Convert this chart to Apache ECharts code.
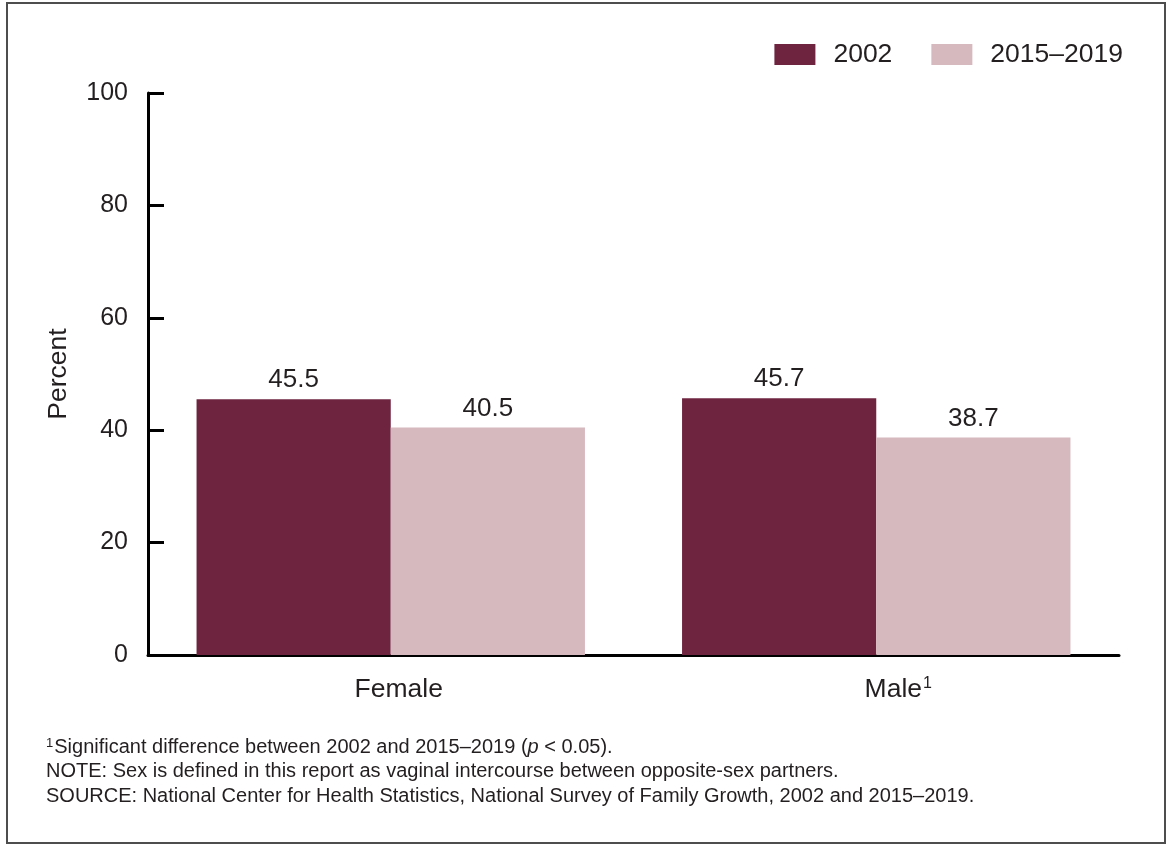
<!DOCTYPE html>
<html>
<head>
<meta charset="utf-8">
<script src="https://cdn.jsdelivr.net/npm/echarts@6/dist/echarts.min.js"></script>
<style>
html,body{margin:0;padding:0;background:#fff;}
#chart{width:1174px;height:850px;}
</style>
</head>
<body>
<div id="chart"></div>
<script>
const categories = ['Female', 'Male'];
const seriesNames = ['2002', '2015–2019'];
const values2002 = [45.5, 45.7];
const values2015 = [40.5, 38.7];
const yTicks = [0, 20, 40, 60, 80, 100];
const footnotes = [
  '{sup|1}Significant difference between 2002 and 2015–2019 ({it|p} < 0.05).',
  'NOTE: Sex is defined in this report as vaginal intercourse between opposite-sex partners.',
  'SOURCE: National Center for Health Statistics, National Survey of Family Growth, 2002 and 2015–2019.'
];

const FONT = '"Liberation Sans", Arial, Helvetica, sans-serif';
const chart = echarts.init(document.getElementById('chart'));

const option = {
  backgroundColor: '#fff',
  animation: false,
  textStyle: { fontFamily: FONT, color: '#231f20' },
  legend: {
    right: 46,
    top: 36,
    itemWidth: 41,
    itemHeight: 21,
    itemGap: 39,
    icon: 'rect',
    textStyle: { fontSize: 26.5, fontFamily: FONT, color: '#231f20', padding: [0, 0, 0, 13] },
    data: seriesNames
  },
  grid: { left: 148, right: 55, top: 93, bottom: 195, containLabel: false },
  xAxis: {
    type: 'category',
    data: categories,
    axisLine: { lineStyle: { color: '#000', width: 3 } },
    axisTick: { show: false },
    axisLabel: {
      fontSize: 26.5, color: '#231f20', margin: 21, fontFamily: FONT,
      formatter: function (v) { return v === 'Male' ? '{m|Male}{sup|1}' : '{f|' + v + '}'; },
      rich: {
        f: { fontSize: 26.5, fontFamily: FONT, color: '#231f20', padding: [0, 0, 0, 16] },
        m: { fontSize: 26.5, fontFamily: FONT, color: '#231f20', padding: [0, 0, 0, 44] },
        sup: { fontSize: 16, verticalAlign: 'top', padding: [0, 0, 12, 1], fontFamily: FONT, color: '#231f20' }
      }
    }
  },
  yAxis: {
    type: 'value',
    min: yTicks[0],
    max: yTicks[yTicks.length - 1],
    interval: yTicks[1] - yTicks[0],
    name: 'Percent',
    nameLocation: 'middle',
    nameRotate: 90,
    nameGap: 76,
    nameTextStyle: { fontSize: 26.5, color: '#231f20', fontFamily: FONT },
    axisLine: { show: true, lineStyle: { color: '#000', width: 3 } },
    axisTick: { show: true, inside: true, length: 16, lineStyle: { color: '#000', width: 3 } },
    splitLine: { show: false },
    axisLabel: { fontSize: 25, color: '#231f20', margin: 20, fontFamily: FONT }
  },
  series: [
    {
      name: seriesNames[0], type: 'bar', data: values2002,
      barGap: '0%', barCategoryGap: '20%',
      itemStyle: { color: '#6e243f' },
      label: { show: true, position: 'top', distance: 6, fontSize: 26, color: '#231f20', fontFamily: FONT, formatter: p => p.value.toFixed(1) }
    },
    {
      name: seriesNames[1], type: 'bar', data: values2015,
      barGap: '0%', barCategoryGap: '20%',
      itemStyle: { color: '#d6b9be' },
      label: { show: true, position: 'top', distance: 6, fontSize: 26, color: '#231f20', fontFamily: FONT, formatter: p => p.value.toFixed(1) }
    }
  ],
  graphic: [
    {
      type: 'rect', silent: true,
      shape: { x: 7, y: 3, width: 1158, height: 840 },
      style: { fill: 'none', stroke: '#4d4d4d', lineWidth: 2 }
    }
  ].concat(footnotes.map((t, i) => ({
    type: 'text', left: 46, top: 737 + i * 24.5, silent: true,
    style: {
      text: t, fontSize: 20, fontFamily: FONT, fill: '#231f20',
      rich: {
        sup: { fontSize: 13, verticalAlign: 'top', padding: [0, 1, 8, 0], fontFamily: FONT, fill: '#231f20' },
        it: { fontStyle: 'italic', fontSize: 20, fontFamily: FONT, fill: '#231f20' }
      }
    }
  })))
};
chart.setOption(option);
</script>
</body>
</html>
